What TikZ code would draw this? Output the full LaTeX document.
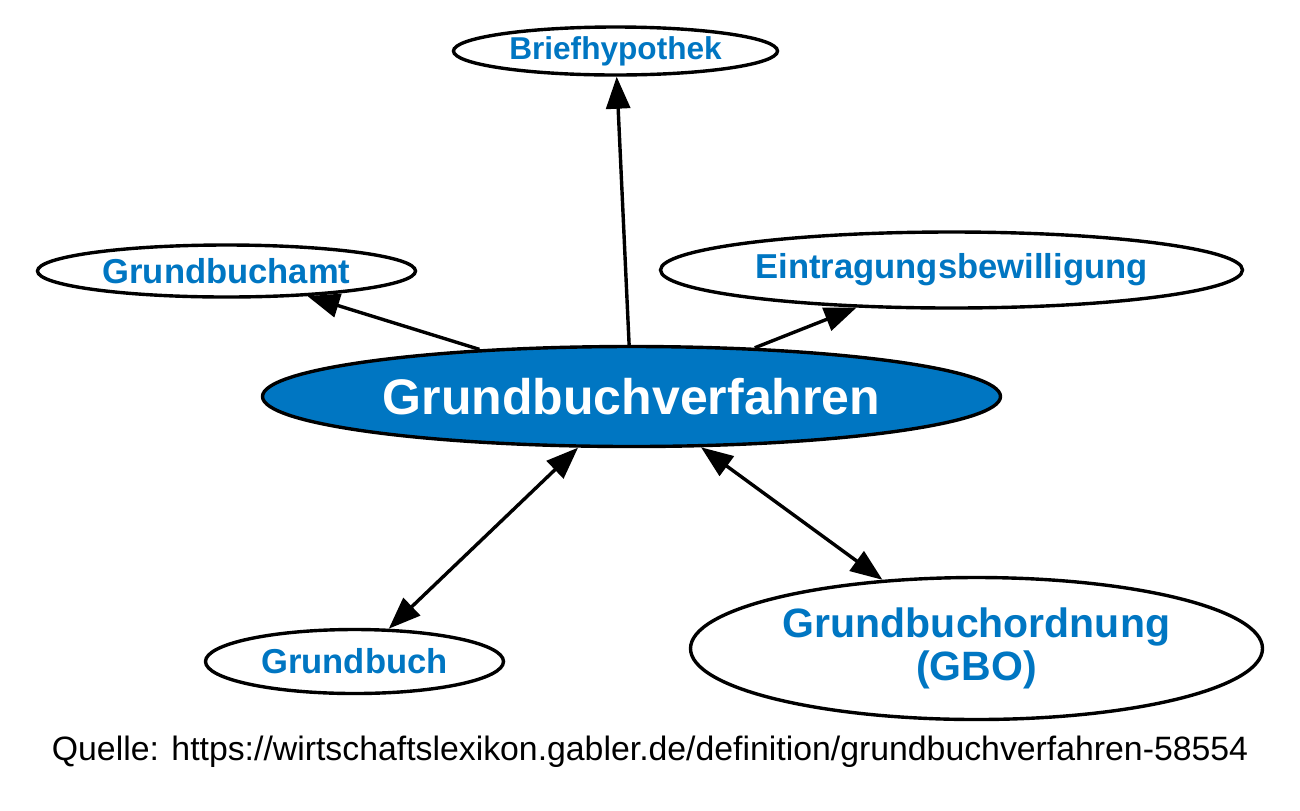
\documentclass[tikz,border=0pt]{standalone}
\usepackage{fontspec}
\setmainfont{Liberation Sans}
\usetikzlibrary{shapes.geometric,arrows.meta}
\definecolor{gablerblue}{HTML}{0076C2}

\begin{document}
\begin{tikzpicture}[x=0.5pt, y=-0.5pt,
  concept/.style={ellipse, draw, line width=1.7pt, fill=white,
    text=gablerblue, inner sep=0pt, align=center},
  link/.style={line width=1.7pt, -{Triangle[length=16pt, width=12pt]}},
  twoway/.style={line width=1.7pt,
    {Triangle[length=16pt, width=12pt]}-{Triangle[length=16pt, width=12pt]}}]
  \useasboundingbox (0,0) rectangle (1300,810);

  % centre
  \node[concept, fill=gablerblue, text=white,
    minimum width=369pt, minimum height=50pt,
    font=\bfseries\fontsize{25}{28}\selectfont]
    (verfahren) at (631.5,396.5) {Grundbuchverfahren};

  % around it
  \node[concept, minimum width=162pt, minimum height=24pt,
    font=\bfseries\fontsize{15.8}{18}\selectfont]
    (brief) at (615.5,51) {Briefhypothek};
  \node[concept, minimum width=189pt, minimum height=26pt,
    font=\bfseries\fontsize{17.3}{20}\selectfont]
    (amt) at (226.5,271) {Grundbuchamt};
  \node[concept, minimum width=291pt, minimum height=38pt,
    font=\bfseries\fontsize{17.3}{20}\selectfont]
    (bewilligung) at (951.5,270) {Eintragungsbewilligung};
  \node[concept, minimum width=149pt, minimum height=32pt,
    font=\bfseries\fontsize{17.3}{20}\selectfont]
    (buch) at (354.5,661.5) {Grundbuch};
  \node[concept, minimum width=286pt, minimum height=71pt,
    font=\bfseries\fontsize{20.5}{21.5}\selectfont]
    (gbo) at (976.5,648.5) {Grundbuchordnung\\(GBO)};

  \draw[link] (verfahren) -- (brief);
  \draw[link] (verfahren) -- (amt);
  \draw[link] (verfahren) -- (bewilligung);
  \draw[twoway] (verfahren) -- (buch);
  \draw[twoway] (verfahren) -- (gbo);

  \node[font=\fontsize{16.9}{20}\selectfont] (quelle) at (650,752)
    {Quelle: https://wirtschaftslexikon.gabler.de/definition/grundbuchverfahren-58554};
\end{tikzpicture}
\end{document}
